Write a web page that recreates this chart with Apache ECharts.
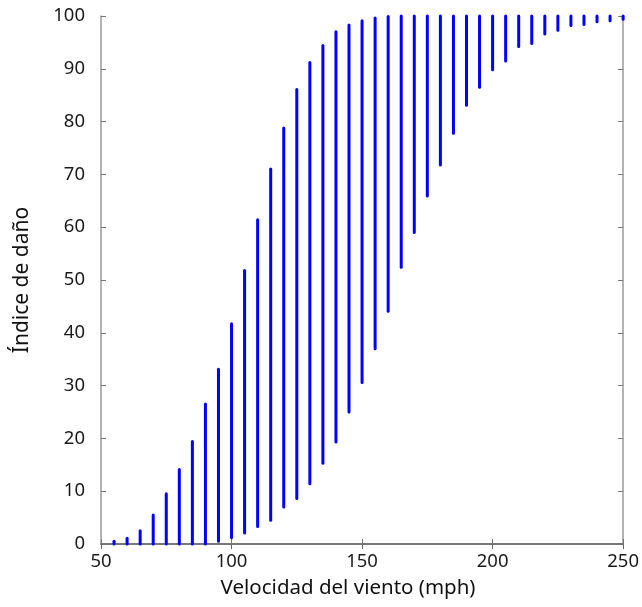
<!DOCTYPE html>
<html>
<head>
<meta charset="utf-8">
<script src="https://cdn.jsdelivr.net/npm/echarts@6/dist/echarts.min.js"></script>
<style>
	html, body { margin: 0; padding: 0; background: #fff; }
	#chart { width: 642px; height: 607px; }
</style>
</head>
<body>
<div id="chart"></div>
<script>
	// velocidad del viento (mph), una columna de puntos cada 5 mph
	const speeds = [50, 55, 60, 65, 70, 75, 80, 85, 90, 95,
		100, 105, 110, 115, 120, 125, 130, 135, 140, 145,
		150, 155, 160, 165, 170, 175, 180, 185, 190, 195,
		200, 205, 210, 215, 220, 225, 230, 235, 240, 245, 250];
	// índice de daño mínimo de cada columna
	const damageMin = [0, 0, 0, 0, 0, 0, 0, 0, 0, 0.5,
		1.2, 2.1, 3.3, 4.5, 7, 8.6, 11.4, 15.3, 19.3, 25,
		30.6, 37, 44.1, 52.4, 59, 65.9, 71.8, 77.8, 83.1, 86.5,
		89.8, 91.5, 94.2, 94.8, 96.6, 97.3, 98.2, 98.4, 98.9, 99.1, 99.4];
	// índice de daño máximo de cada columna
	const damageMax = [0, 0.5, 1.1, 2.5, 5.5, 9.5, 14.1, 19.4, 26.5, 33.1,
		41.7, 51.8, 61.4, 71, 78.8, 86.1, 91.2, 94.4, 97, 98.3,
		99.1, 99.6, 99.9, 100, 100, 100, 100, 100, 100, 100,
		100, 100, 100, 100, 100, 100, 100, 100, 100, 100, 100];

	const xTicks = [50, 100, 150, 200, 250];
	const yTicks = [0, 10, 20, 30, 40, 50, 60, 70, 80, 90, 100];

	const columns = speeds.map((s, i) => [s, damageMin[i], damageMax[i]]);

	const fontFam = '"Noto Sans", "DejaVu Sans", sans-serif';
	const axisGray = '#9a9a9a';

	const chart = echarts.init(document.getElementById('chart'));

	const option = {
		animation: false,
		grid: { left: 101, right: 14, top: 16, bottom: 63 },
		xAxis: [{
				type: 'value',
				min: xTicks[0],
				max: xTicks[xTicks.length - 1],
				interval: 50,
				name: 'Velocidad del viento (mph)',
				nameLocation: 'middle',
				nameGap: 34,
				nameTextStyle: { fontFamily: fontFam, fontSize: 20.5, color: '#111', padding: [0, 28, 0, 0] },
				axisLine: { lineStyle: { color: axisGray, width: 1.5 } },
				axisTick: { inside: true, length: 5, lineStyle: { color: '#777' } },
				axisLabel: { fontFamily: fontFam, fontSize: 18.5, color: '#1a1a1a', margin: 8 },
				splitLine: { show: false }
			},
			{
				type: 'value',
				position: 'top',
				min: xTicks[0],
				max: xTicks[xTicks.length - 1],
				interval: 50,
				axisLine: { lineStyle: { color: '#666', width: 1.5 } },
				axisTick: { inside: true, length: 5, lineStyle: { color: '#666' } },
				axisLabel: { show: false },
				splitLine: { show: false }
			}
		],
		yAxis: [{
				type: 'value',
				min: yTicks[0],
				max: yTicks[yTicks.length - 1],
				interval: 10,
				name: 'Índice de daño',
				nameLocation: 'middle',
				nameGap: 68,
				nameTextStyle: { fontFamily: fontFam, fontSize: 21, color: '#111' },
				axisLine: { lineStyle: { color: axisGray, width: 1.5 } },
				axisTick: { inside: true, length: 5, lineStyle: { color: '#777' } },
				axisLabel: { fontFamily: fontFam, fontSize: 18.5, color: '#1a1a1a', margin: 16 },
				splitLine: { show: false }
			},
			{
				type: 'value',
				position: 'right',
				min: yTicks[0],
				max: yTicks[yTicks.length - 1],
				interval: 10,
				axisLine: { lineStyle: { color: axisGray, width: 1.5 } },
				axisTick: { inside: true, length: 5, lineStyle: { color: '#777' } },
				axisLabel: { show: false },
				splitLine: { show: false }
			}
		],
		series: [{
			type: 'custom',
			xAxisIndex: 0,
			yAxisIndex: 0,
			clip: false,
			encode: { x: 0, y: [1, 2] },
			data: columns,
			renderItem: function (params, api) {
				const lo = api.coord([api.value(0), api.value(1)]);
				const hi = api.coord([api.value(0), api.value(2)]);
				return {
					type: 'line',
					shape: { x1: lo[0], y1: lo[1], x2: hi[0], y2: hi[1] },
					style: { stroke: '#0000ff', lineWidth: 3, lineCap: 'round' }
				};
			}
		}]
	};

	chart.setOption(option);
</script>
</body>
</html>
